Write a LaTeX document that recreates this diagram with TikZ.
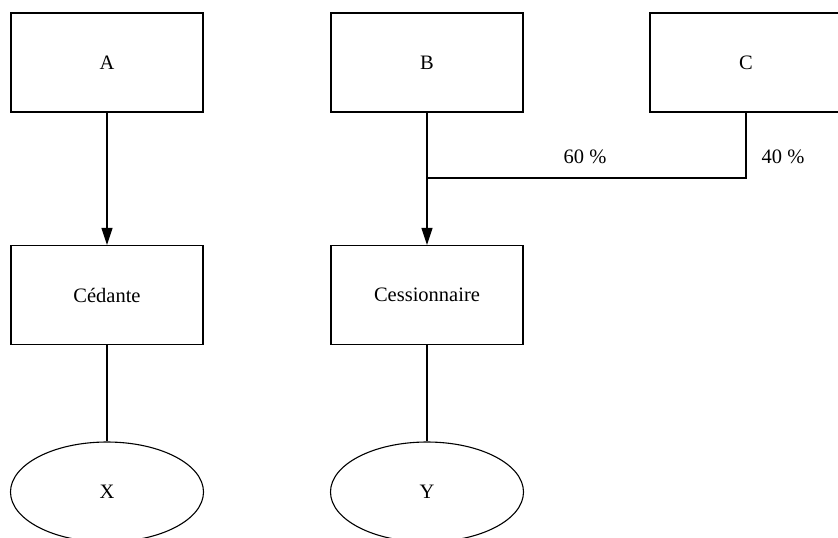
\documentclass[tikz,border=0pt]{standalone}
\usepackage{fontspec}
\setmainfont{Liberation Serif}
\usetikzlibrary{shapes.geometric,arrows.meta}
\tikzset{
  txt/.style={font=\fontsize{20.5}{23}\selectfont},
  box/.style={draw, line width=1.1pt, minimum width=192pt, minimum height=99pt, inner sep=0pt, txt},
  oval/.style={draw, line width=1.1pt, ellipse, minimum width=193pt, minimum height=100pt, inner sep=0pt, txt},
  conn/.style={line width=1.1pt},
  arr/.style={conn, -{Triangle[length=17pt,width=11pt]}},
  lbl/.style={txt}
}
\begin{document}
\begin{tikzpicture}[x=1pt,y=-1pt]
\useasboundingbox (0,0) rectangle (838,538);
\node[box] (A) at (107,62.5) {A};
\node[box] (B) at (427,62.5) {B};
\node[box] (C) at (746,62.5) {C};
\node[box] (Ce) at (107,295) {Cédante};
\node[box] (Cs) at (427,295) {Cessionnaire};
\node[oval] (X) at (107,492) {X};
\node[oval] (Y) at (427,492) {Y};
\coordinate (J) at (427,178);
\draw[arr] (A) -- (Ce);
\draw[arr] (B) -- (Cs);
\draw[conn] (C.south) |- (J);
\draw[conn] (Ce) -- (X);
\draw[conn] (Cs) -- (Y);
\node[lbl] (p60) at (585,157) {60 \%};
\node[lbl] (p40) at (783,157) {40 \%};
\end{tikzpicture}
\end{document}
